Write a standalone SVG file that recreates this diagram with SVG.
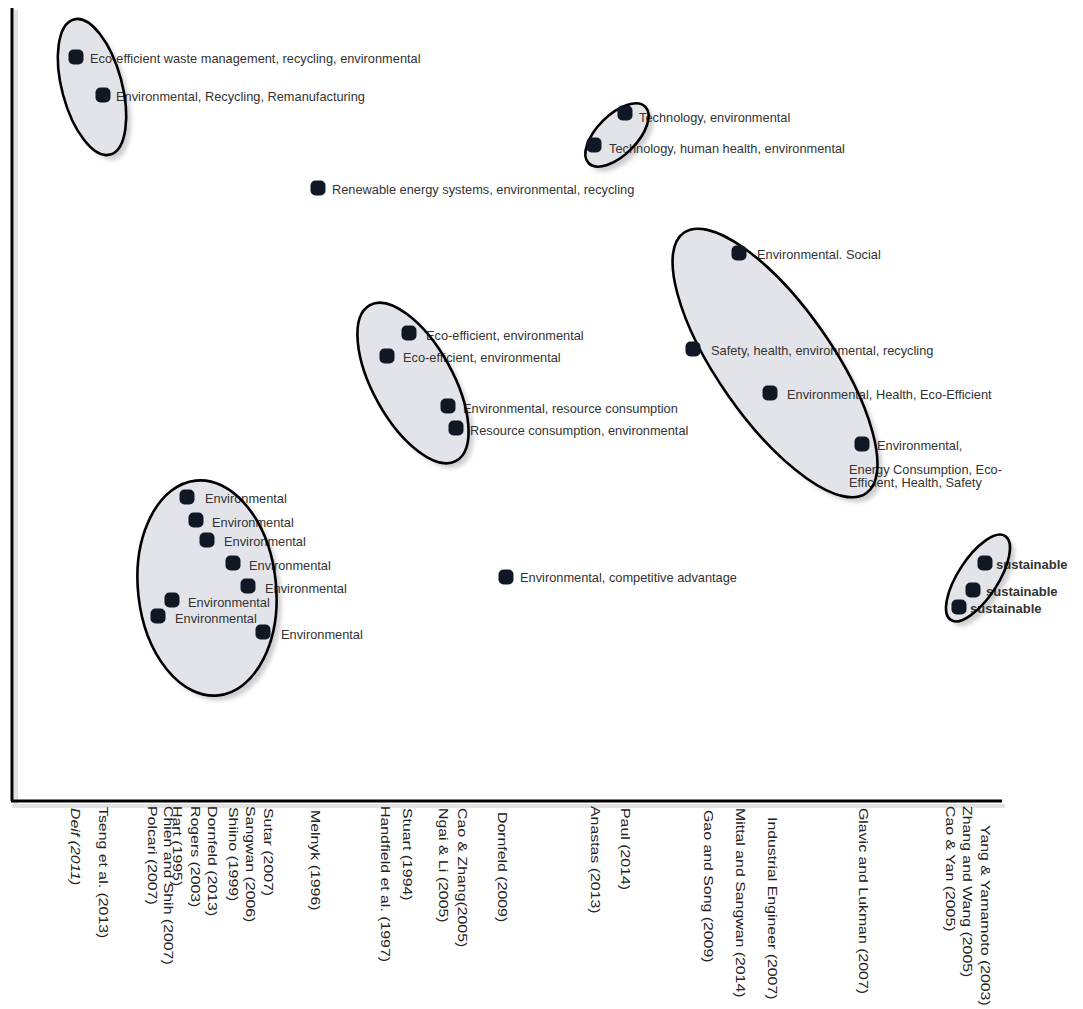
<svg xmlns="http://www.w3.org/2000/svg" width="1083" height="1009" viewBox="0 0 1083 1009">
<style>
.lbl{font-family:"Liberation Sans",Arial,sans-serif;font-size:12.8px;fill:#333}
.sus{font-family:"Liberation Sans",Arial,sans-serif;font-size:13px;font-weight:bold;fill:#333}
.ax{font-family:"Liberation Sans",Arial,sans-serif;font-size:13px;fill:#222}
.fill{fill:#e3e4e9}
.shd{fill:#cfcfd3;filter:url(#blur)}
.rim{fill:none;stroke:#000;stroke-width:2.6}
.dot{fill:#101826}
</style>
<defs>
<filter id="blur" x="-20%" y="-20%" width="140%" height="140%"><feGaussianBlur stdDeviation="2"/></filter>
<rect id="d" x="-7.5" y="-7.5" width="15" height="15" rx="5"/>
</defs>
<rect width="1083" height="1009" fill="#fff"/>

<g id="axes">
<line x1="16" y1="10" x2="16" y2="805" stroke="#e2e2e2" stroke-width="4"/>
<line x1="12" y1="806" x2="1005" y2="806" stroke="#e2e2e2" stroke-width="4"/>
<line x1="12" y1="8" x2="12" y2="801" stroke="#000" stroke-width="3"/>
<line x1="11" y1="801" x2="1002" y2="801" stroke="#000" stroke-width="3"/>
</g>

<g id="connectors"></g>

<g id="cluster-waste">
<ellipse class="shd" cx="97" cy="92" rx="30" ry="70" transform="rotate(-15 97 92)"/>
<ellipse class="fill" cx="92" cy="87" rx="30" ry="70" transform="rotate(-15 92 87)"/>
<text class="lbl" x="90" y="63">Eco-efficient waste management, recycling, environmental</text>
<text class="lbl" x="116" y="101">Environmental, Recycling, Remanufacturing</text>
<ellipse class="rim" cx="92" cy="87" rx="30" ry="70" transform="rotate(-15 92 87)"/>
<use href="#d" class="dot" x="76" y="57"/>
<use href="#d" class="dot" x="103" y="95"/>
</g>

<g id="cluster-technology">
<ellipse class="shd" cx="622" cy="140" rx="40" ry="20" transform="rotate(-45 622 140)"/>
<ellipse class="fill" cx="617" cy="135" rx="40" ry="20" transform="rotate(-45 617 135)"/>
<text class="lbl" x="639" y="122">Technology, environmental</text>
<text class="lbl" x="609" y="153">Technology, human health, environmental</text>
<ellipse class="rim" cx="617" cy="135" rx="40" ry="20" transform="rotate(-45 617 135)"/>
<use href="#d" class="dot" x="625" y="113"/>
<use href="#d" class="dot" x="594" y="145"/>
</g>

<g id="point-renewable">
<text class="lbl" x="332" y="194">Renewable energy systems, environmental, recycling</text>
<use href="#d" class="dot" x="318" y="188"/>
</g>

<g id="cluster-eco-efficient">
<ellipse class="shd" cx="418" cy="388" rx="40" ry="89" transform="rotate(-29 418 388)"/>
<ellipse class="fill" cx="413" cy="383" rx="40" ry="89" transform="rotate(-29 413 383)"/>
<text class="lbl" x="426" y="340">Eco-efficient, environmental</text>
<text class="lbl" x="403" y="362">Eco-efficient, environmental</text>
<text class="lbl" x="463" y="413">Environmental, resource consumption</text>
<text class="lbl" x="470" y="435">Resource consumption, environmental</text>
<ellipse class="rim" cx="413" cy="383" rx="40" ry="89" transform="rotate(-29 413 383)"/>
<use href="#d" class="dot" x="409" y="333"/>
<use href="#d" class="dot" x="387" y="356"/>
<use href="#d" class="dot" x="448" y="406"/>
<use href="#d" class="dot" x="456" y="428"/>
</g>

<g id="cluster-social">
<ellipse class="shd" cx="780" cy="368" rx="57" ry="159" transform="rotate(-35 780 368)"/>
<ellipse class="fill" cx="775" cy="363" rx="57" ry="159" transform="rotate(-35 775 363)"/>
<text class="lbl" x="757" y="259">Environmental. Social</text>
<text class="lbl" x="711" y="355">Safety, health, environmental, recycling</text>
<text class="lbl" x="787" y="399">Environmental, Health, Eco-Efficient</text>
<text class="lbl" x="877" y="450">Environmental,</text>
<text class="lbl" x="849" y="474">Energy Consumption, Eco-<tspan x="849" dy="13">Efficient, Health, Safety</tspan></text>
<ellipse class="rim" cx="775" cy="363" rx="57" ry="159" transform="rotate(-35 775 363)"/>
<use href="#d" class="dot" x="739" y="253"/>
<use href="#d" class="dot" x="693" y="349"/>
<use href="#d" class="dot" x="770" y="393"/>
<use href="#d" class="dot" x="862" y="444"/>
</g>

<g id="cluster-environmental">
<ellipse class="shd" cx="212" cy="593" rx="69" ry="108" transform="rotate(-6 212 593)"/>
<ellipse class="fill" cx="207" cy="588" rx="69" ry="108" transform="rotate(-6 207 588)"/>
<text class="lbl" x="205" y="503">Environmental</text>
<text class="lbl" x="212" y="527">Environmental</text>
<text class="lbl" x="224" y="546">Environmental</text>
<text class="lbl" x="249" y="570">Environmental</text>
<text class="lbl" x="265" y="593">Environmental</text>
<text class="lbl" x="188" y="607">Environmental</text>
<text class="lbl" x="175" y="623">Environmental</text>
<text class="lbl" x="281" y="639">Environmental</text>
<ellipse class="rim" cx="207" cy="588" rx="69" ry="108" transform="rotate(-6 207 588)"/>
<use href="#d" class="dot" x="187" y="497"/>
<use href="#d" class="dot" x="196" y="520"/>
<use href="#d" class="dot" x="207" y="540"/>
<use href="#d" class="dot" x="233" y="563"/>
<use href="#d" class="dot" x="248" y="586"/>
<use href="#d" class="dot" x="172" y="600"/>
<use href="#d" class="dot" x="158" y="616"/>
<use href="#d" class="dot" x="263" y="632"/>
</g>

<g id="point-competitive">
<text class="lbl" x="520" y="582">Environmental, competitive advantage</text>
<use href="#d" class="dot" x="506" y="577"/>
</g>

<g id="cluster-sustainable">
<ellipse class="shd" cx="983" cy="583" rx="20" ry="50" transform="rotate(33 983 583)"/>
<ellipse class="fill" cx="978" cy="578" rx="20" ry="50" transform="rotate(33 978 578)"/>
<text class="sus" x="996" y="569">sustainable</text>
<text class="sus" x="986" y="596">sustainable</text>
<text class="sus" x="970" y="613">sustainable</text>
<ellipse class="rim" cx="978" cy="578" rx="20" ry="50" transform="rotate(33 978 578)"/>
<use href="#d" class="dot" x="985" y="563"/>
<use href="#d" class="dot" x="973" y="590"/>
<use href="#d" class="dot" x="959" y="607"/>
</g>

<g id="axis-labels" class="ax">
<text transform="translate(71,808) rotate(90) scale(1.22,1)" font-style="italic">Deif (2011)</text>
<text transform="translate(99,807) rotate(90) scale(1.22,1)">Tseng et al. (2013)</text>
<text transform="translate(148,806) rotate(90) scale(1.22,1)">Polcari (2007)</text>
<text transform="translate(164,806) rotate(90) scale(1.22,1)">Chien and Shih (2007)</text>
<text transform="translate(173,806) rotate(90) scale(1.22,1)">Hart (1995)</text>
<text transform="translate(191,806) rotate(90) scale(1.22,1)">Rogers (2003)</text>
<text transform="translate(208,806) rotate(90) scale(1.22,1)">Dornfeld (2013)</text>
<text transform="translate(229,807) rotate(90) scale(1.22,1)">Shiino (1999)</text>
<text transform="translate(246,806) rotate(90) scale(1.22,1)">Sangwan (2006)</text>
<text transform="translate(264,808) rotate(90) scale(1.22,1)">Sutar (2007)</text>
<text transform="translate(311,810) rotate(90) scale(1.22,1)">Melnyk (1996)</text>
<text transform="translate(381,806) rotate(90) scale(1.22,1)">Handfield et al. (1997)</text>
<text transform="translate(403,808) rotate(90) scale(1.22,1)">Stuart (1994)</text>
<text transform="translate(439,808) rotate(90) scale(1.22,1)">Ngai &amp; Li (2005)</text>
<text transform="translate(458,808) rotate(90) scale(1.22,1)">Cao &amp; Zhang(2005)</text>
<text transform="translate(498,812) rotate(90) scale(1.22,1)">Dornfeld (2009)</text>
<text transform="translate(591,806) rotate(90) scale(1.22,1)">Anastas (2013)</text>
<text transform="translate(621,808) rotate(90) scale(1.22,1)">Paul (2014)</text>
<text transform="translate(704,810) rotate(90) scale(1.22,1)">Gao and Song (2009)</text>
<text transform="translate(736,808) rotate(90) scale(1.22,1)">Mittal and Sangwan (2014)</text>
<text transform="translate(768,817) rotate(90) scale(1.22,1)">Industrial Engineer (2007)</text>
<text transform="translate(859,808) rotate(90) scale(1.22,1)">Glavic and Lukman (2007)</text>
<text transform="translate(946,806) rotate(90) scale(1.22,1)">Cao &amp; Yan (2005)</text>
<text transform="translate(963,806) rotate(90) scale(1.22,1)">Zhang and Wang (2005)</text>
<text transform="translate(981,825) rotate(90) scale(1.22,1)">Yang &amp; Yamamoto (2003)</text>
</g>
</svg>
